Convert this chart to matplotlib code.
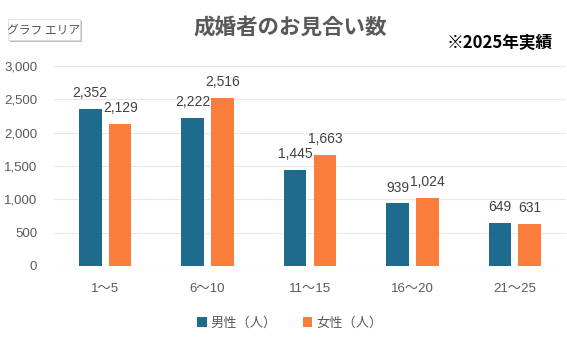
import matplotlib
matplotlib.use("Agg")
import matplotlib.pyplot as plt
from matplotlib.patches import FancyBboxPatch
import numpy as np

plt.rcParams["font.family"] = ["Liberation Sans", "Noto Sans CJK JP", "DejaVu Sans"]

categories = ["1～5", "6～10", "11～15", "16～20", "21～25"]
male = [2352, 2222, 1445, 939, 649]
female = [2129, 2516, 1663, 1024, 631]
series_names = ["男性（人）", "女性（人）"]

color_male = "#1F6B8E"
color_female = "#FA7D3C"
text_gray = "#595959"

fig = plt.figure(figsize=(5.67, 3.43), dpi=100)
ax = fig.add_axes([54 / 567, 77 / 343, 512 / 567, 200 / 343])

x = np.arange(len(categories))
w = 0.22
b1 = ax.bar(x - 0.146, male, w, color=color_male, label=series_names[0], zorder=3)
b2 = ax.bar(x + 0.146, female, w, color=color_female, label=series_names[1], zorder=3)

for bars in (b1, b2):
    for r in bars:
        ax.annotate(f"{int(r.get_height()):,}",
                    (r.get_x() + r.get_width() / 2, r.get_height()),
                    xytext=(0, 8.5), textcoords="offset points",
                    ha="center", va="baseline", fontsize=10,
                    color="#404040", zorder=4)

ax.set_xlim(-0.5, len(categories) - 0.5)
ax.set_ylim(0, 3000)
ax.set_yticks(np.arange(0, 3001, 500))
ax.set_yticklabels([f"{v:,}" for v in range(0, 3001, 500)])
ax.set_xticks(x)
ax.set_xticklabels(categories)
ax.tick_params(axis="both", length=0, labelsize=9.5, labelcolor=text_gray)
ax.tick_params(axis="x", pad=12)
ax.tick_params(axis="y", pad=12)
for s in ax.spines.values():
    s.set_visible(False)
ax.grid(axis="y", color="#E8E8E8", linewidth=0.8, zorder=0)

fig.text(290 / 567, 1 - 27 / 343, "成婚者のお見合い数", ha="center", va="center",
         fontsize=15.5, fontweight="bold", color=text_gray,
         family=["Noto Sans CJK JP", "DejaVu Sans"])
fig.text(500 / 567, 1 - 43 / 343, "※2025年実績", ha="center", va="center",
         fontsize=12, fontweight="bold", color="black",
         family=["Noto Sans CJK JP", "DejaVu Sans"])

# "グラフ エリア" tooltip-style label
shadow = FancyBboxPatch((10 / 567, 1 - 42 / 343), 72 / 567, 21 / 343,
                        boxstyle="square,pad=0", transform=fig.transFigure,
                        facecolor="#BBBBBB", edgecolor="none", zorder=1)
box = FancyBboxPatch((8 / 567, 1 - 40 / 343), 72 / 567, 21 / 343,
                     boxstyle="square,pad=0", transform=fig.transFigure,
                     facecolor="white", edgecolor="#DDDDDD", linewidth=0.6, zorder=2)
fig.patches.extend([shadow, box])
fig.text(44 / 567, 1 - 29.5 / 343, "グラフ エリア", ha="center", va="center",
         fontsize=8.5, color="#555555", zorder=3,
         family=["Noto Sans CJK JP", "DejaVu Sans"])

leg = fig.legend(handles=[b1, b2], labels=series_names, loc="center",
                 bbox_to_anchor=(290 / 567, 1 - 323 / 343), ncol=2, frameon=False,
                 handlelength=0.7, handleheight=0.7, handletextpad=0.3,
                 columnspacing=2.0,
                 prop={"family": ["Noto Sans CJK JP", "DejaVu Sans"], "size": 9.5})
for t in leg.get_texts():
    t.set_color(text_gray)

fig.savefig("out.png", dpi=100)
